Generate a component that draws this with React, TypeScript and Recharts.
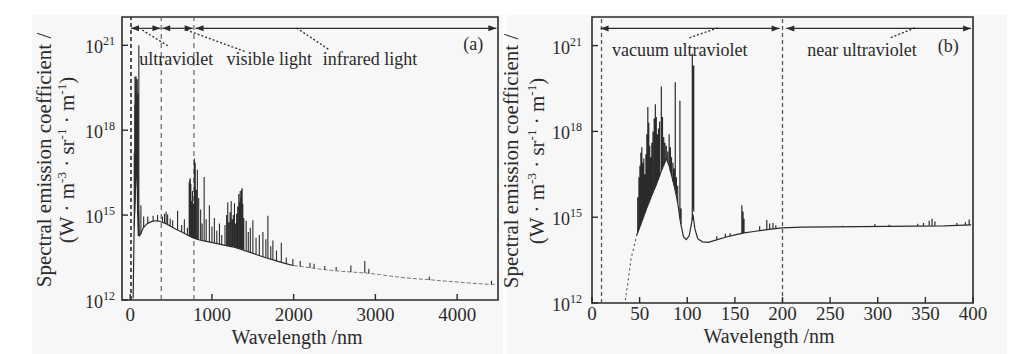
import React from 'react'
import {
	LineChart,
	Line,
	XAxis,
	YAxis,
	ReferenceLine,
	ReferenceDot,
	ReferenceArea,
} from 'recharts'

type Pt = [number, number]
type Spike = [number, number, number] // wavelength, base, peak (log10 values)

// ---- panel (a): 0 - 4500 nm ----
const fullContinuum: Pt[] = [
	[36, 12.05], [42, 13.2], [47, 14.3], [55, 15.1], [62, 15.7], [70, 16.4], [79, 17.1],
	[86, 16.2], [92, 15.0], [100, 14.25], [106, 15.2], [112, 14.25], [130, 14.35],
	[160, 14.55], [200, 14.68], [250, 14.76], [300, 14.8], [350, 14.79], [400, 14.74],
	[450, 14.68], [500, 14.6], [560, 14.5], [620, 14.42], [700, 14.3], [780, 14.18],
	[850, 14.12], [950, 14.06], [1050, 14.0], [1150, 13.94], [1250, 13.88], [1350, 13.8],
	[1450, 13.7], [1550, 13.6], [1650, 13.5], [1750, 13.42], [1850, 13.33], [1950, 13.25],
	[2000, 13.22],
]
const fullTail: Pt[] = [
	[2000, 13.22], [2150, 13.16], [2300, 13.1], [2450, 13.05], [2600, 13.01], [2750, 12.98],
	[2900, 12.95], [3050, 12.9], [3200, 12.84], [3350, 12.79], [3500, 12.75], [3650, 12.72],
	[3800, 12.68], [3950, 12.65], [4100, 12.61], [4250, 12.58], [4400, 12.55], [4480, 12.56],
]
const fullLines: Spike[] = [
	[50, 14.6, 17.2], [55, 15.1, 18.9], [59, 15.4, 19.9], [64, 15.8, 18.4], [67, 16.0, 19.6],
	[73, 16.6, 19.9], [78, 17.0, 18.5], [84, 16.5, 19.2], [87, 16.3, 19.8], [92, 15.0, 19.3],
	[106, 15.2, 21.0],
	[131, 14.32, 15.35], [165, 14.56, 14.95], [215, 14.7, 14.95], [280, 14.78, 14.98],
	[335, 14.79, 15.0], [395, 14.74, 14.95], [420, 14.72, 15.05], [440, 14.7, 15.12],
	[458, 14.68, 15.02], [490, 14.62, 14.88], [520, 14.57, 14.82], [580, 14.48, 15.15],
	[630, 14.4, 14.65], [663, 14.35, 14.85], [700, 14.3, 14.55],
	[722, 14.26, 16.15], [728, 14.25, 16.25], [735, 14.24, 16.3], [742, 14.23, 16.1],
	[752, 14.2, 15.5], [762, 14.19, 15.85], [772, 14.18, 15.4], [785, 14.17, 17.0],
	[796, 14.16, 16.85], [808, 14.15, 15.9], [822, 14.14, 16.6], [838, 14.13, 15.6],
	[862, 14.12, 15.2], [880, 14.1, 14.7], [905, 14.08, 16.35], [930, 14.07, 14.85],
	[969, 14.05, 15.35], [1000, 14.03, 14.6], [1030, 14.01, 14.9], [1060, 14.0, 14.45],
	[1092, 13.98, 14.7], [1120, 13.96, 14.3],
	[1160, 13.93, 14.65], [1180, 13.92, 15.0], [1194, 13.91, 15.45], [1208, 13.9, 14.75],
	[1222, 13.9, 15.1], [1236, 13.89, 15.5], [1250, 13.88, 14.85], [1262, 13.88, 15.0],
	[1276, 13.87, 15.42], [1290, 13.86, 14.7], [1302, 13.85, 15.05], [1315, 13.84, 15.3],
	[1329, 13.83, 15.75], [1338, 13.82, 15.45], [1346, 13.82, 15.85], [1354, 13.81, 15.6],
	[1362, 13.8, 15.9], [1370, 13.8, 15.95], [1378, 13.79, 15.4], [1390, 13.78, 14.9],
	[1419, 13.75, 14.8], [1445, 13.72, 14.4], [1470, 13.69, 14.55], [1501, 13.66, 14.82],
	[1540, 13.62, 14.2], [1580, 13.58, 14.3], [1624, 13.53, 14.4], [1660, 13.5, 14.15],
	[1685, 13.48, 14.98], [1720, 13.45, 13.9], [1746, 13.42, 14.1], [1790, 13.38, 13.75],
	[1849, 13.33, 14.02], [1910, 13.28, 13.5], [1990, 13.23, 13.45], [2080, 13.19, 13.38],
	[2200, 13.14, 13.32], [2250, 13.12, 13.28], [2380, 13.08, 13.2], [2520, 13.04, 13.17],
	[2700, 12.99, 13.22], [2870, 12.95, 13.38], [2920, 12.94, 13.1], [3660, 12.71, 12.82],
	[4420, 12.55, 12.68],
]
const fullTicks = [0, 1000, 2000, 3000, 4000]

// ---- panel (b): 0 - 400 nm ----
const uvRise: Pt[] = [[35, 12.1], [38, 12.8], [41, 13.55], [44, 13.95], [47, 14.38]]
const uvContinuum: Pt[] = [
	[47, 14.38], [52, 14.85], [57, 15.3], [62, 15.72], [67, 16.1], [72, 16.55], [78, 17.05],
	[81, 16.8], [84, 16.4], [87, 16.0], [90, 15.5], [93, 14.8], [96, 14.32], [99, 14.22],
	[102, 14.35], [104, 14.7], [106, 15.1], [108, 14.6], [111, 14.25], [116, 14.14],
	[122, 14.12], [130, 14.2], [140, 14.3], [150, 14.38], [160, 14.45], [170, 14.5],
	[180, 14.55], [190, 14.59], [200, 14.63], [220, 14.65], [250, 14.66], [280, 14.67],
	[310, 14.68], [340, 14.69], [370, 14.7], [398, 14.73],
]
const uvLines: Spike[] = [
	[48, 14.45, 15.7], [49.3, 14.55, 16.4], [50.3, 14.65, 16.8], [51.3, 14.72, 17.25],
	[52.3, 14.82, 17.45], [53.3, 14.9, 16.9], [54.4, 15.0, 17.05], [55.5, 15.1, 16.5],
	[56.6, 15.2, 17.2], [57.6, 15.3, 17.9], [58.6, 15.38, 18.85], [59.6, 15.46, 18.3],
	[60.6, 15.55, 17.5], [61.6, 15.63, 17.1], [62.8, 15.75, 17.6], [64, 15.85, 18.0],
	[65.3, 15.95, 18.45], [66.5, 16.05, 18.95], [67.5, 16.12, 18.5], [68.6, 16.22, 17.9],
	[69.8, 16.3, 18.1], [71, 16.42, 18.35], [72.8, 16.6, 19.57], [74, 16.68, 18.5],
	[75.3, 16.8, 17.8], [76.6, 16.9, 17.6], [78, 17.0, 17.5], [79.5, 16.9, 17.3],
	[81, 16.8, 17.9], [82.3, 16.6, 17.45], [83.5, 16.45, 17.1], [85, 16.25, 16.9],
	[86.2, 16.1, 16.7], [87.4, 15.95, 19.72], [88.6, 15.8, 16.4], [90, 15.5, 16.1],
	[92.3, 14.95, 19.07], [93.5, 14.75, 15.3],
	[105.3, 14.9, 20.72], [106.3, 15.3, 20.3], [106.8, 15.2, 20.3],
	[131, 14.21, 14.33], [140, 14.3, 14.42], [145, 14.34, 14.44],
	[157.3, 14.44, 15.42], [158.6, 14.45, 15.2], [159.6, 14.45, 14.95],
	[176, 14.53, 14.68], [183.5, 14.56, 14.9], [186.5, 14.57, 14.78], [190, 14.59, 14.8],
	[193, 14.6, 14.72], [263, 14.66, 14.7], [297, 14.68, 14.76], [312, 14.68, 14.74],
	[342, 14.69, 14.77], [348, 14.69, 14.8], [354, 14.7, 14.88], [357, 14.7, 14.95],
	[360, 14.7, 14.85], [383, 14.71, 14.8], [392, 14.72, 14.82], [396, 14.73, 14.92],
]
const uvTicks = [0, 50, 100, 150, 200, 250, 300, 350, 400]

const decadeTicks = [12, 15, 18, 21]

const ink = '#2b2b2b'
const serif = '"Liberation Serif", "Times New Roman", serif'

const toPoints = (pts: Pt[]) => pts.map(([x, y]) => ({ x, y }))
const toSpikes = (lines: Spike[]) =>
	lines.flatMap(([x, base, peak]) => [{ x, y: base }, { x, y: peak }, { x, y: null }])

const XTick = (props: any) => {
	const { x, y, payload, dy } = props
	return (
		<g>
			<line x1={x} y1={y} x2={x} y2={y - 6} stroke={ink} strokeWidth={1.4} />
			<text x={x} y={y + dy} textAnchor="middle" fontSize={19} fontFamily={serif} fill={ink}>
				{payload.value}
			</text>
		</g>
	)
}

const YTick = (props: any) => {
	const { x, y, payload, gap } = props
	return (
		<g>
			<line x1={x} y1={y} x2={x + 6} y2={y} stroke={ink} strokeWidth={1.4} />
			<text x={x - gap} y={y + 8} textAnchor="end" fontSize={18} fontFamily={serif} fill={ink}>
				10
				<tspan dy={-8} fontSize={12}>{payload.value}</tspan>
			</text>
		</g>
	)
}

const YTitle = ({ x1, x2, cy }: { x1: number; x2: number; cy: number }) => (
	<g fontFamily={serif} fontSize={21} fill={ink}>
		<text x={x1} y={cy} transform={`rotate(-90 ${x1} ${cy})`} textAnchor="middle">
			Spectral emission coefficient /
		</text>
		<text x={x2} y={cy} transform={`rotate(-90 ${x2} ${cy})`} textAnchor="middle">
			{'(W · m'}
			<tspan dy={-8} fontSize={13}>-3</tspan>
			<tspan dy={8}>{' · sr'}</tspan>
			<tspan dy={-8} fontSize={13}>-1</tspan>
			<tspan dy={8}>{' · m'}</tspan>
			<tspan dy={-8} fontSize={13}>-1</tspan>
			<tspan dy={8}>)</tspan>
		</text>
	</g>
)

const XTitle = ({ cx, y }: { cx: number; y: number }) => (
	<text x={cx} y={y} textAnchor="middle" fontSize={20} fontFamily={serif} fill={ink}>
		Wavelength /nm
	</text>
)

const head = (dir: number) => (p: any) => (
	<path d={`M${p.cx},${p.cy} l${-dir * 8},-3 l0,6 z`} fill={ink} />
)

const word = (txt: string) => (p: any) => (
	<text x={p.cx} y={p.cy} fontSize={18} fontFamily={serif} fill={ink}>
		{txt}
	</text>
)

// double headed arrow between two wavelengths at height y
const arrow = (key: string, a: number, b: number, y: number) => [
	<ReferenceLine key={key + 'l'} segment={[{ x: a, y }, { x: b, y }]} stroke={ink} strokeWidth={1.2} />,
	<ReferenceDot key={key + 'a'} x={a} y={y} shape={head(-1)} />,
	<ReferenceDot key={key + 'b'} x={b} y={y} shape={head(1)} />,
]

const leader = (key: string, x1: number, y1: number, x2: number, y2: number) => (
	<ReferenceLine
		key={key}
		segment={[{ x: x1, y: y1 }, { x: x2, y: y2 }]}
		stroke={ink}
		strokeWidth={1.3}
		strokeDasharray="2 2"
	/>
)

const label = (key: string, x: number, y: number, txt: string) => (
	<ReferenceDot key={key} x={x} y={y} shape={word(txt)} />
)

function FullPanel() {
	return (
		<LineChart width={510} height={354} margin={{ top: 17, right: 12, bottom: 0, left: 0 }}>
			<XAxis
				type="number"
				dataKey="x"
				domain={[-100, 4500]}
				allowDataOverflow
				ticks={fullTicks}
				interval={0}
				axisLine={false}
				tickLine={false}
				tickSize={0}
				tickMargin={0}
				height={54}
				tick={(p: any) => <XTick {...p} dy={21} />}
				label={() => <XTitle cx={297} y={344} />}
			/>
			<YAxis
				type="number"
				domain={[12, 22]}
				allowDataOverflow
				ticks={decadeTicks}
				interval={0}
				axisLine={false}
				tickLine={false}
				tickSize={0}
				tickMargin={0}
				width={122}
				tick={(p: any) => <YTick {...p} gap={7} />}
				label={() => <YTitle x1={51} x2={74} cy={160} />}
			/>
			<ReferenceArea x1={-100} x2={4500} y1={12} y2={22} fill="none" stroke={ink} strokeWidth={1.6} />
			<ReferenceLine x={10} stroke={ink} strokeWidth={1.6} strokeDasharray="4 3" />
			<ReferenceLine x={380} stroke="#666" strokeWidth={1.2} strokeDasharray="5 4" />
			<ReferenceLine x={780} stroke="#666" strokeWidth={1.2} strokeDasharray="5 4" />
			<Line data={toPoints(fullContinuum)} dataKey="y" stroke={ink} strokeWidth={1.2} dot={false} activeDot={false} isAnimationActive={false} />
			<Line data={toPoints(fullTail)} dataKey="y" stroke="#777" strokeWidth={1} strokeDasharray="4 2" dot={false} activeDot={false} isAnimationActive={false} />
			<Line data={toSpikes(fullLines)} dataKey="y" stroke={ink} strokeWidth={1.1} dot={false} activeDot={false} connectNulls={false} isAnimationActive={false} />
			{arrow('uv', 10, 370, 21.6)}
			{arrow('vis', 392, 765, 21.6)}
			{arrow('ir', 800, 4480, 21.6)}
			{leader('l1', 147, 21.54, 478, 20.95)}
			{leader('l2', 687, 21.54, 1423, 20.76)}
			{leader('l3', 2037, 21.61, 2442, 20.83)}
			{label('t1', 110, 20.3, 'ultraviolet')}
			{label('t2', 1178, 20.3, 'visible light')}
			{label('t3', 2356, 20.3, 'infrared light')}
			{label('t4', 4074, 20.83, '(a)')}
		</LineChart>
	)
}

function UvPanel() {
	return (
		<LineChart width={522} height={354} margin={{ top: 17, right: 49, bottom: 0, left: 0 }}>
			<XAxis
				type="number"
				dataKey="x"
				domain={[0, 400]}
				allowDataOverflow
				ticks={uvTicks}
				interval={0}
				axisLine={false}
				tickLine={false}
				tickSize={0}
				tickMargin={0}
				height={51}
				tick={(p: any) => <XTick {...p} dy={17} />}
				label={() => <XTitle cx={269} y={343} />}
			/>
			<YAxis
				type="number"
				domain={[12, 22]}
				allowDataOverflow
				ticks={decadeTicks}
				interval={0}
				axisLine={false}
				tickLine={false}
				tickSize={0}
				tickMargin={0}
				width={92}
				tick={(p: any) => <YTick {...p} gap={10} />}
				label={() => <YTitle x1={18} x2={44} cy={161} />}
			/>
			<ReferenceArea x1={0} x2={400} y1={12} y2={22} fill="none" stroke={ink} strokeWidth={1.6} />
			<ReferenceLine x={10} stroke="#555" strokeWidth={1.3} strokeDasharray="4 3" />
			<ReferenceLine x={200} stroke="#555" strokeWidth={1.3} strokeDasharray="4 3" />
			<Line data={toPoints(uvRise)} dataKey="y" stroke="#555" strokeWidth={1.2} strokeDasharray="2 3" dot={false} activeDot={false} isAnimationActive={false} />
			<Line data={toPoints(uvContinuum)} dataKey="y" stroke={ink} strokeWidth={1.2} dot={false} activeDot={false} isAnimationActive={false} />
			<Line data={toSpikes(uvLines)} dataKey="y" stroke={ink} strokeWidth={1.2} dot={false} activeDot={false} connectNulls={false} isAnimationActive={false} />
			{arrow('vuv', 9, 197, 21.6)}
			{arrow('nuv', 204, 398, 21.6)}
			{leader('l1', 132, 21.62, 102, 21.27)}
			{leader('l2', 339, 21.62, 313, 21.27)}
			{label('t1', 21, 20.65, 'vacuum ultraviolet')}
			{label('t2', 226, 20.62, 'near ultraviolet')}
			{label('t3', 363, 20.76, '(b)')}
		</LineChart>
	)
}

export default function App() {
	return (
		<div style={{ position: 'absolute', left: 0, top: 0, width: 1022, height: 354, background: '#fff', overflow: 'hidden' }}>
			<div style={{ position: 'absolute', left: 32, top: 15, width: 471, height: 339, background: '#f7f7f7' }} />
			<div style={{ position: 'absolute', left: 507, top: 15, width: 500, height: 339, background: '#f7f7f7' }} />
			<div style={{ position: 'absolute', left: 0, top: 0 }}>
				<FullPanel />
			</div>
			<div style={{ position: 'absolute', left: 500, top: 0 }}>
				<UvPanel />
			</div>
		</div>
	)
}
